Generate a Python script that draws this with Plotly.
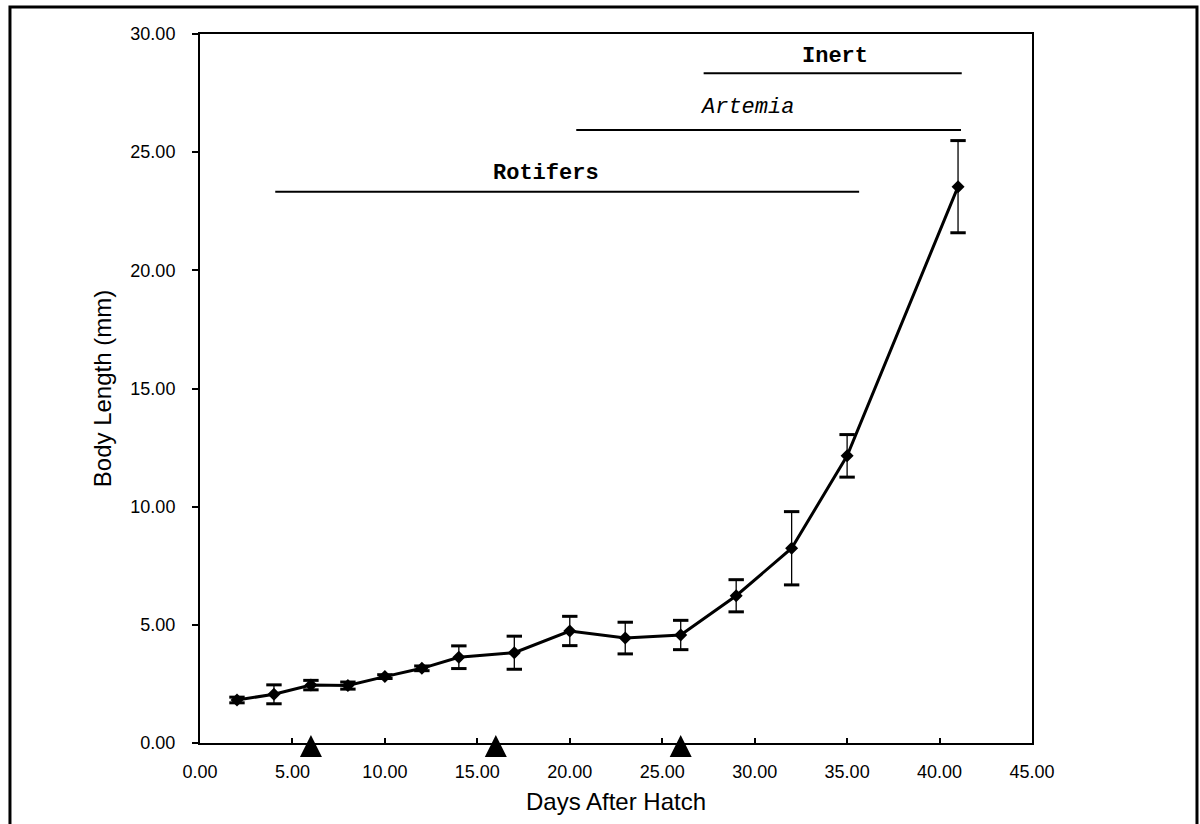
import plotly.graph_objects as go

# ---- data ----
days = [2, 4, 6, 8, 10, 12, 14, 17, 20, 23, 26, 29, 32, 35, 41]
body_length = [1.82, 2.06, 2.45, 2.43, 2.81, 3.16, 3.63, 3.82, 4.74, 4.44, 4.57, 6.23, 8.24, 12.15, 23.54]
sd = [0.12, 0.40, 0.20, 0.15, 0.08, 0.10, 0.48, 0.70, 0.62, 0.67, 0.62, 0.68, 1.55, 0.90, 1.95]

event_days = [6, 16, 26]
event_level = [0, 0, 0]

periods = ["<b>Rotifers</b>", "<i>Artemia</i>", "<b>Inert</b>"]
period_start = [4.07, 20.35, 27.24]
period_end = [35.65, 41.16, 41.2]
period_level = [23.33, 25.94, 28.34]
label_x = [18.69, 29.6, 34.37]
label_y = [24.10, 26.87, 29.04]

x_ticks = [0, 5, 10, 15, 20, 25, 30, 35, 40, 45]
y_ticks = [0, 5, 10, 15, 20, 25, 30]

SANS = "Liberation Sans, Arial, sans-serif"
MONO = "Courier New, Liberation Mono, monospace"

fig = go.Figure()

# feeding period bars
for s, e, lv in zip(period_start, period_end, period_level):
    fig.add_trace(go.Scatter(x=[s, e], y=[lv, lv], mode="lines",
                             line=dict(color="black", width=2),
                             showlegend=False, hoverinfo="skip"))

# growth curve with thin error stems
fig.add_trace(go.Scatter(
    x=days, y=body_length, mode="lines+markers",
    line=dict(color="black", width=3),
    marker=dict(symbol="diamond", size=10, color="black"),
    error_y=dict(type="data", array=sd, visible=True, color="black",
                 thickness=1.3, width=0),
    showlegend=False, cliponaxis=False))

# heavier error-bar caps
cap_x = days + days
cap_y = [v + s for v, s in zip(body_length, sd)] + [v - s for v, s in zip(body_length, sd)]
fig.add_trace(go.Scatter(
    x=cap_x, y=cap_y, mode="markers",
    marker=dict(symbol="line-ew", size=11, line=dict(color="black", width=3)),
    showlegend=False, cliponaxis=False, hoverinfo="skip"))

# event triangles on the x axis
fig.add_trace(go.Scatter(
    x=event_days, y=event_level, mode="markers",
    marker=dict(symbol="arrow-down", angle=180, standoff=8, size=22,
                color="black", line=dict(width=0)),
    showlegend=False, cliponaxis=False, hoverinfo="skip"))

for txt, lx, ly in zip(periods, label_x, label_y):
    fig.add_annotation(x=lx, y=ly, text=txt, showarrow=False,
                       font=dict(family=MONO, size=22, color="black"),
                       xanchor="center", yanchor="middle")

# outer frame
fig.add_shape(type="rect", xref="paper", yref="paper",
              x0=-0.2284, x1=1.1983, y0=-0.14, y1=1.038,
              line=dict(color="black", width=3), layer="below")

fig.update_layout(
    width=1200, height=824,
    margin=dict(l=200, r=168, t=34, b=81),
    paper_bgcolor="white", plot_bgcolor="white",
    font=dict(family=SANS, color="black"),
    showlegend=False,
    xaxis=dict(range=[0, 45], tickvals=x_ticks, tickformat=".2f",
               ticks="inside", ticklen=5, tickwidth=1.5, tickcolor="black",
               showline=True, linecolor="black", linewidth=2, mirror=True,
               showgrid=False, zeroline=False,
               tickfont=dict(size=18, family=SANS),
               ticklabelstandoff=11,
               title=dict(text="Days After Hatch", font=dict(size=24, family=SANS), standoff=13)),
    yaxis=dict(range=[0, 30], tickvals=y_ticks, tickformat=".2f",
               ticks="outside", ticklen=6, tickwidth=1.5, tickcolor="black",
               showline=True, linecolor="black", linewidth=2, mirror=True,
               showgrid=False, zeroline=False,
               tickfont=dict(size=18, family=SANS),
               ticklabelstandoff=13,
               title=dict(text="Body Length (mm)", font=dict(size=24, family=SANS), standoff=12)),
)

fig.write_html("out.html")
